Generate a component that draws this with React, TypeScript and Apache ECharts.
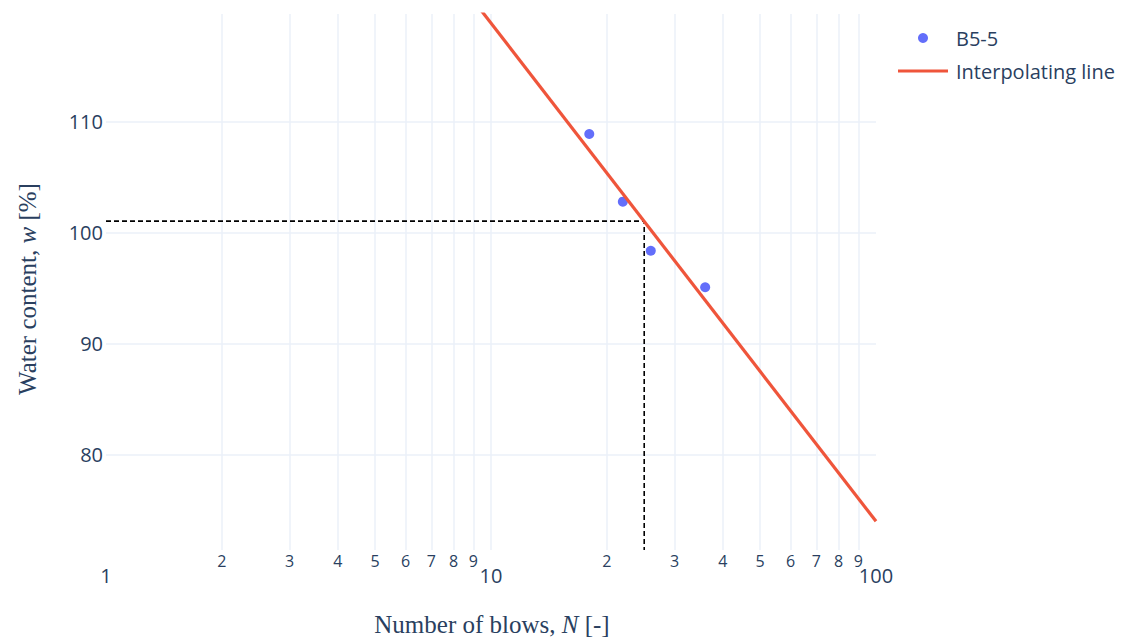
import React, { useEffect, useRef } from "react";
import * as echarts from "echarts";

// Measured data (blows N, water content w %)
const blows = [18, 22, 26, 36];
const water = [108.92, 102.81, 98.38, 95.08];
// Interpolating line end points
const lineBlows = [1, 100];
const lineWater = [163.9, 73.95];
// Liquid limit read-off at N = 25
const llBlows = 25;
const llWater = 101.05;
// Axis ranges
const xMin = 1;
const xMax = 100;
const yMin = 71.36;
const yMax = 119.75;
const yTicks = [80, 90, 100, 110];
const minorTicks = [2, 3, 4, 5, 6, 7, 8, 9, 20, 30, 40, 50, 60, 70, 80, 90];

const GRID = "#EBF0F8";
const TXT = "#2a3f5f";
const FONT = "'Open Sans', sans-serif";
const SERIF = "'Liberation Serif', serif";

export default function App() {
  const ref = useRef<HTMLDivElement>(null);
  useEffect(() => {
    if (!ref.current) return;
    const chart = echarts.init(ref.current, null, { renderer: "svg" });
    const option: any = {
      animation: false,
      backgroundColor: "#fff",
      grid: { left: 106, right: 248, top: 14, bottom: 89, containLabel: false },
      legend: {
        data: [
          { name: "B5-5", icon: "circle" },
          { name: "Interpolating line", icon: "path://M0,0 L50,0 L50,3 L0,3 Z" },
        ],
        orient: "vertical",
        left: 898,
        top: 28,
        itemWidth: 50,
        itemHeight: 10,
        itemGap: 13,
        padding: 0,
        textStyle: { fontFamily: FONT, fontSize: 20, color: TXT, lineHeight: 20, padding: [0, 0, 0, 3] },
        selectedMode: false,
      },
      xAxis: {
        type: "log",
        logBase: 10,
        min: xMin,
        max: xMax,
        axisLine: { show: false },
        axisTick: { show: false },
        axisLabel: { fontFamily: FONT, fontSize: 20, color: TXT, margin: 15 },
        splitLine: { show: true, showMinLine: false, showMaxLine: false, lineStyle: { color: GRID, width: 1.5 } },
      },
      yAxis: {
        type: "value",
        min: yMin,
        max: yMax,
        axisLine: { show: false },
        axisTick: { show: false },
        axisLabel: {
          fontFamily: FONT,
          fontSize: 20,
          color: TXT,
          margin: 3,
          showMinLabel: false,
          showMaxLabel: false,
          formatter: (v: number) => (yTicks.includes(v) ? String(v) : ""),
        },
        splitLine: { show: true, showMinLine: false, showMaxLine: false, lineStyle: { color: GRID, width: 1.5 } },
      },
      graphic: [
        {
          type: "text",
          x: 492,
          y: 624,
          style: {
            text: "{n|Number of blows, }{i|N}{n| [-]}",
            align: "center",
            verticalAlign: "middle",
            rich: {
              n: { fontFamily: SERIF, fontSize: 25, fill: TXT },
              i: { fontFamily: SERIF, fontSize: 25, fontStyle: "italic", fill: TXT },
            },
          },
        },
        {
          type: "text",
          x: 27,
          y: 289,
          rotation: Math.PI / 2,
          style: {
            text: "{n|Water content, }{i|w}{n| [%]}",
            align: "center",
            verticalAlign: "middle",
            rich: {
              n: { fontFamily: SERIF, fontSize: 25, fill: TXT },
              i: { fontFamily: SERIF, fontSize: 25, fontStyle: "italic", fill: TXT },
            },
          },
        },
      ],
      series: [
        {
          name: "minor-grid",
          type: "line",
          data: [],
          silent: true,
          z: 1,
          markLine: {
            silent: true,
            z: 1,
            symbol: ["none", "none"],
            animation: false,
            lineStyle: { color: GRID, width: 1.5, type: "solid" },
            emphasis: { disabled: true },
            label: {
              show: true,
              position: "start",
              distance: 3,
              fontFamily: FONT,
              fontSize: 16,
              color: TXT,
              formatter: (p: any) => String(p.value).charAt(0),
            },
            data: minorTicks.map((v) => ({ xAxis: v })),
          },
        },
        {
          name: "LL",
          type: "line",
          data: [
            [xMin, llWater],
            [llBlows, llWater],
            [llBlows, yMin],
          ],
          symbol: "none",
          silent: true,
          z: 2,
          lineStyle: { color: "#000", width: 1.6, type: [5, 3] },
        },
        {
          name: "B5-5",
          type: "scatter",
          data: blows.map((n, i) => [n, water[i]]),
          symbol: "circle",
          symbolSize: 10,
          z: 3,
          itemStyle: { color: "#636efa", opacity: 1 },
        },
        {
          name: "Interpolating line",
          type: "line",
          data: lineBlows.map((n, i) => [n, lineWater[i]]),
          symbol: "none",
          clip: true,
          z: 4,
          lineStyle: { color: "#ef553b", width: 3.2 },
          itemStyle: { color: "#ef553b" },
        },
      ],
    };
    chart.setOption(option);
    return () => chart.dispose();
  }, []);
  return (
    <div
      ref={ref}
      style={{ position: "fixed", left: 0, top: 0, width: 1124, height: 639, background: "#fff" }}
    />
  );
}
